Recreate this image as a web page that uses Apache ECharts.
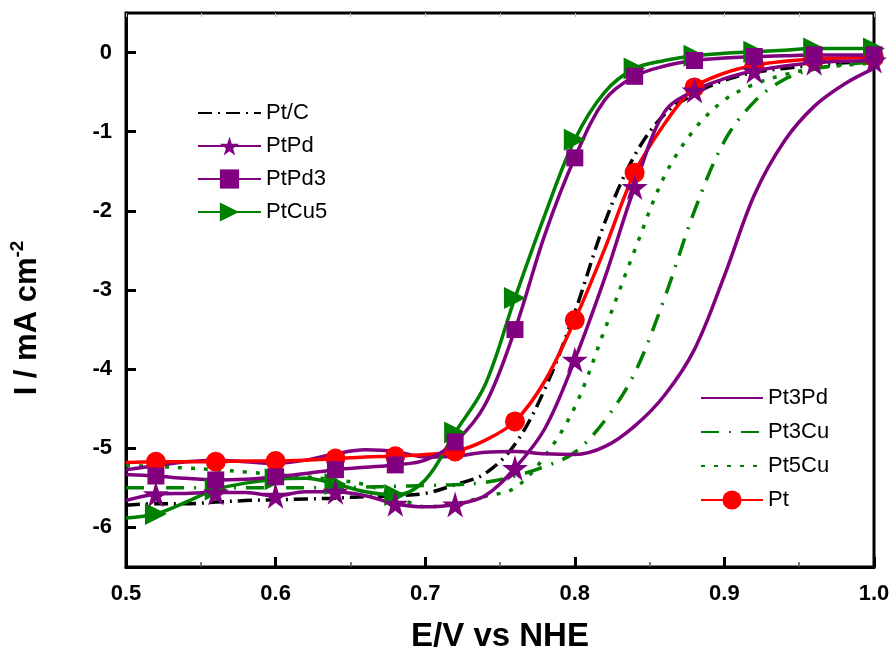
<!DOCTYPE html>
<html>
<head>
<meta charset="utf-8">
<script src="https://cdn.jsdelivr.net/npm/echarts@6/dist/echarts.min.js"></script>
<style>
html,body{margin:0;padding:0;background:#fff;}
#chart{width:894px;height:658px;}
</style>
</head>
<body>
<div id="chart"></div>
<script>
// potential (V vs NHE)
var E = [0.50,0.52,0.54,0.56,0.58,0.60,0.62,0.64,0.66,0.68,0.70,0.72,0.74,0.76,0.78,0.80,0.82,0.84,0.86,0.88,0.90,0.92,0.94,0.96,0.98,1.00];
// current density, mA cm-2
var ptc   = [-5.72,-5.70,-5.70,-5.68,-5.66,-5.65,-5.64,-5.63,-5.61,-5.60,-5.57,-5.46,-5.32,-4.95,-4.25,-3.28,-2.15,-1.30,-0.78,-0.52,-0.35,-0.25,-0.20,-0.16,-0.13,-0.10];
var ptpd  = [-5.66,-5.58,-5.57,-5.56,-5.56,-5.60,-5.55,-5.55,-5.60,-5.70,-5.74,-5.71,-5.60,-5.25,-4.75,-3.88,-2.85,-1.70,-0.75,-0.48,-0.33,-0.23,-0.17,-0.13,-0.11,-0.10];
var ptpd3 = [-5.33,-5.35,-5.38,-5.40,-5.39,-5.36,-5.32,-5.27,-5.24,-5.21,-5.15,-4.92,-4.45,-3.50,-2.30,-1.33,-0.60,-0.30,-0.17,-0.10,-0.07,-0.05,-0.04,-0.03,-0.03,-0.03];
var ptcu5 = [-5.88,-5.83,-5.68,-5.52,-5.44,-5.39,-5.38,-5.45,-5.55,-5.59,-5.40,-4.80,-4.20,-3.10,-2.05,-1.10,-0.50,-0.20,-0.10,-0.04,-0.01,0.01,0.03,0.05,0.05,0.05];
var pt3pd = [-5.27,-5.22,-5.17,-5.15,-5.17,-5.19,-5.15,-5.07,-5.02,-5.04,-5.11,-5.10,-5.05,-5.04,-5.07,-5.08,-4.98,-4.72,-4.33,-3.75,-2.82,-1.80,-1.12,-0.68,-0.40,-0.20];
var pt3cu = [-5.50,-5.50,-5.50,-5.50,-5.50,-5.50,-5.50,-5.50,-5.49,-5.48,-5.47,-5.46,-5.43,-5.35,-5.23,-5.05,-4.65,-4.05,-3.10,-2.00,-1.12,-0.62,-0.34,-0.21,-0.15,-0.12];
var pt5cu = [-5.22,-5.23,-5.25,-5.27,-5.30,-5.33,-5.36,-5.40,-5.46,-5.60,-5.74,-5.70,-5.61,-5.50,-5.10,-4.48,-3.50,-2.50,-1.56,-0.97,-0.60,-0.40,-0.28,-0.20,-0.16,-0.13];
var pt    = [-5.18,-5.17,-5.17,-5.17,-5.16,-5.16,-5.15,-5.13,-5.11,-5.10,-5.08,-5.04,-4.90,-4.66,-4.15,-3.38,-2.48,-1.52,-0.90,-0.44,-0.26,-0.16,-0.11,-0.08,-0.07,-0.06];
var yTicks = [-6,-5,-4,-3,-2,-1,0];

var FONT = "'Liberation Sans', Arial, sans-serif";
var PURPLE = '#800080', GREEN = '#008000', RED = '#ff0000';
var STAR = 'path://M50,0 L61,35 L98,35 L68,57 L79,91 L50,70 L21,91 L32,57 L2,35 L39,35 Z';

// markers every 0.04 V (0.52, 0.56 ...)
function pts(ys, marked){
    return E.map(function(x, i){
        var p = {value: [x, ys[i]]};
        if (!marked || i % 2 === 0) p.symbol = 'none';
        return p;
    });
}

function line(name, ys, color, type, symbol, size, rotate){
    return {
        name: name,
        type: 'line',
        data: pts(ys, !!symbol),
        smooth: 0.35,
        symbol: symbol || 'none',
        symbolSize: size || 0,
        symbolRotate: rotate || 0,
        showSymbol: true,
        color: color,
        itemStyle: {color: color},
        lineStyle: {color: color, width: 3.5, type: type || 'solid'},
        emphasis: {disabled: true},
        animation: false
    };
}

var myChart = echarts.init(document.getElementById('chart'));
var legendText = {fontFamily: FONT, fontSize: 22, color: '#000'};
var option = {
    backgroundColor: '#fff',
    grid: {left: 125, right: 20, top: 13, bottom: 91, show: true, borderColor: '#000', borderWidth: 3},
    legend: [
        {
            left: 197, top: 102, padding: 0, orient: 'vertical', itemWidth: 63, itemHeight: 24, itemGap: 11,
            selectedMode: false, textStyle: legendText,
            data: [{name: 'Pt/C', itemStyle: {opacity: 0}}, 'PtPd', 'PtPd3', 'PtCu5']
        },
        {
            left: 700, top: 387, padding: 0, orient: 'vertical', itemWidth: 62, itemHeight: 24, itemGap: 12,
            selectedMode: false, textStyle: legendText,
            data: [{name: 'Pt3Pd', itemStyle: {opacity: 0}}, {name: 'Pt3Cu', itemStyle: {opacity: 0}},
                   {name: 'Pt5Cu', itemStyle: {opacity: 0}}, 'Pt']
        }
    ],
    xAxis: [
        {
            type: 'value', min: 0.5, max: 1.0, interval: 0.1,
            name: 'E/V vs NHE', nameLocation: 'middle', nameGap: 53,
            nameTextStyle: {fontFamily: FONT, fontSize: 33, fontWeight: 'bold', color: '#000'},
            axisLine: {onZero: false, lineStyle: {color: '#000', width: 3}},
            axisTick: {inside: true, length: 10, lineStyle: {color: '#000', width: 3}},
            minorTick: {show: true, splitNumber: 2, length: 5, lineStyle: {color: '#555', width: 1.5}},
            axisLabel: {margin: 16, fontFamily: FONT, fontSize: 22, fontWeight: 'bold', color: '#000',
                formatter: function(v){ return v.toFixed(1); }},
            splitLine: {show: false}
        },
        {
            type: 'value', position: 'top', min: 0.5, max: 1.0, interval: 0.05,
            axisLine: {show: false, onZero: false},
            axisTick: {inside: true, length: 4, lineStyle: {color: '#bbb', width: 1}},
            axisLabel: {show: false},
            splitLine: {show: false}
        }
    ],
    yAxis: {
        type: 'value', min: -6.5, max: 0.5, interval: 0.5,
        name: '{a|I / mA cm}{b|-2}', nameLocation: 'middle', nameGap: 80,
        nameTextStyle: {
            color: '#000',
            padding: [0, 56, 0, 0],
            rich: {
                a: {fontFamily: FONT, fontSize: 31, fontWeight: 'bold', color: '#000', lineHeight: 38},
                b: {fontFamily: FONT, fontSize: 19, fontWeight: 'bold', color: '#000', verticalAlign: 'top'}
            }
        },
        axisLine: {onZero: false, lineStyle: {color: '#000', width: 3}},
        axisTick: {inside: true, length: 10, customValues: yTicks, lineStyle: {color: '#000', width: 3}},
        axisLabel: {margin: 14, customValues: yTicks, fontFamily: FONT, fontSize: 22, fontWeight: 'bold', color: '#000'},
        splitLine: {show: false}
    },
    series: [
        line('Pt/C', ptc, '#000', [14, 6, 2, 6]),
        line('Pt3Cu', pt3cu, GREEN, [18, 10, 2, 10]),
        line('Pt5Cu', pt5cu, GREEN, [4, 9]),
        line('Pt3Pd', pt3pd, PURPLE),
        line('PtCu5', ptcu5, GREEN, null, 'triangle', 22, -90),
        line('Pt', pt, RED, null, 'circle', 20),
        line('PtPd3', ptpd3, PURPLE, null, 'rect', 17),
        line('PtPd', ptpd, PURPLE, null, STAR, 26)
    ]
};
myChart.setOption(option);
</script>
</body>
</html>
